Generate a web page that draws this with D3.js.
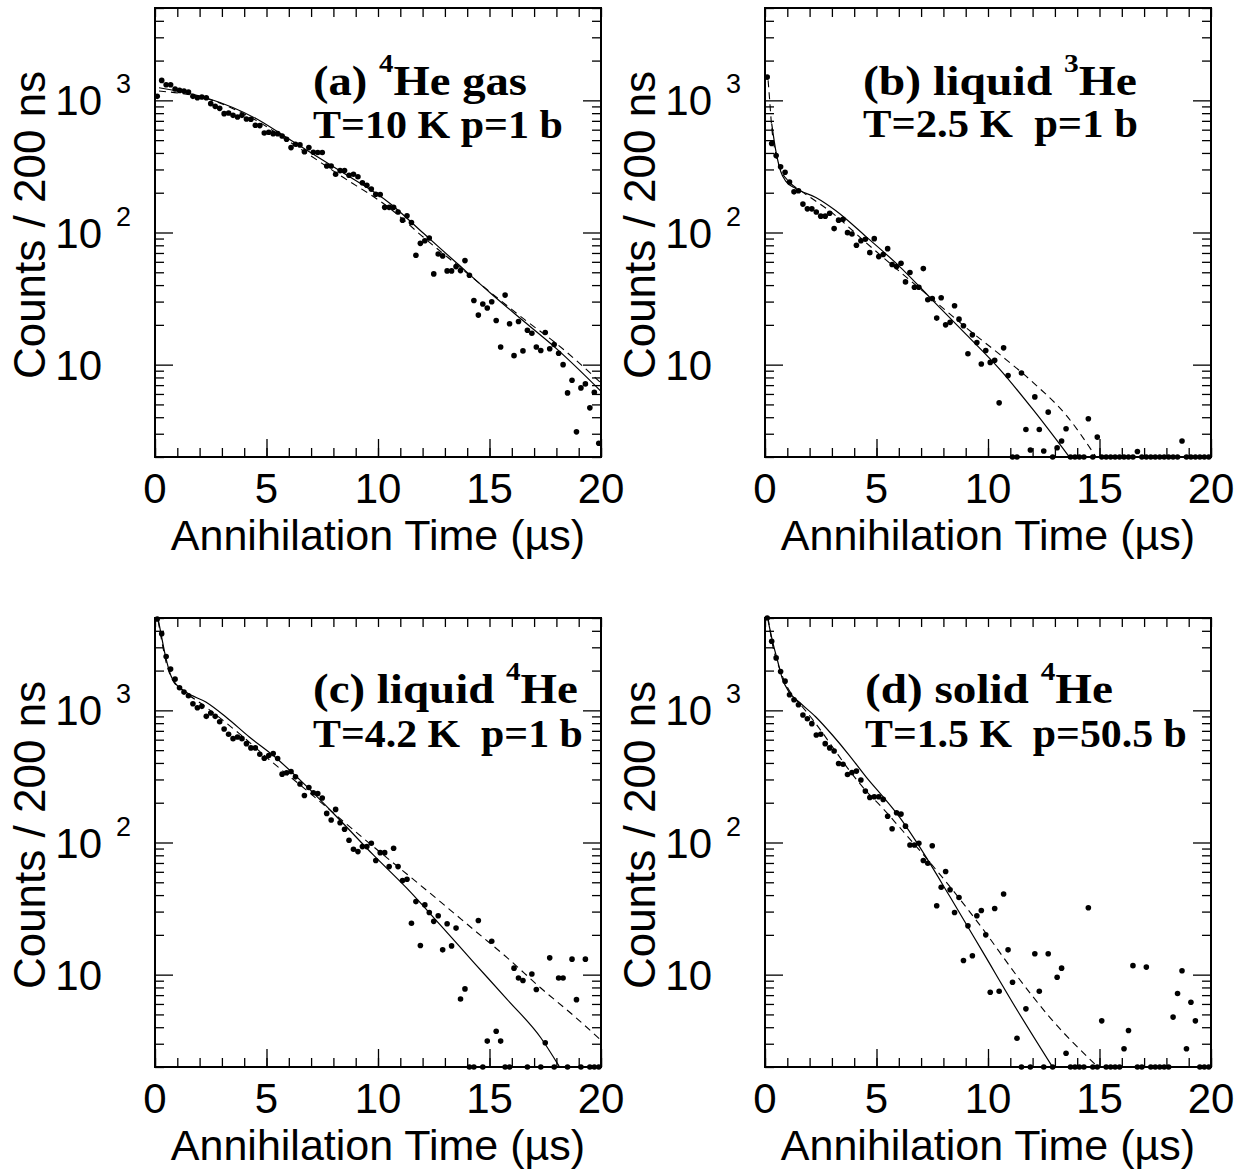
<!DOCTYPE html>
<html>
<head>
<meta charset="utf-8">
<script src="https://cdn.jsdelivr.net/npm/d3@7"></script>
<style>
  body { margin: 0; background: #fff; }
  svg { display: block; }
</style>
</head>
<body>
<svg id="chart" width="1251" height="1170"></svg>
<script>
// histogram bins are 200 ns wide, 100 bins from 0 to 20 us
const binWidth = 0.2;

// counts per bin, 0 = empty bin (drawn on the bottom edge)
const countsA = [1072,1416,1313,1313,1218,1190,1176,1155,1072,1047,
  1060,1047,944,901,870,793,802,770,749,770,
  723,719,648,644,566,573,560,560,538,508,
  439,466,460,408,439,405,403,403,319,319,
  276,294,294,271,276,264,238,228,213,195,
  194,155,155,155,143,124,134,119,67.3,82.8,
  86.7,90.8,48.6,68.8,66.5,51.2,51.2,55.2,51.5,61.3,
  47.5,30.6,23.7,28.8,26.8,29.9,21.6,13.6,33.6,20.4,
  11.7,21.2,12.7,18.2,17.3,13.6,12.8,17.5,13.2,14.2,
  12.2,10.0,6.11,7.62,3.10,6.67,7.15,4.71,6.18,2.54];

const countsB = [1500,471,382,314,286,241,203,207,164,151,
  151,143,133,133,140,107,124,126,99.7,97.4,
  80.0,86.7,88.8,70.4,89.8,65.7,68.1,75.5,57.2,55.2,
  58.5,42.3,49.8,38.5,38.5,53.3,31.0,31.7,22.5,32.1,
  20.0,20.9,27.9,22.1,19.7,12.1,16.8,14.7,10.1,12.8,
  10.4,10.8,5.14,13.4,8.26,0,0,8.65,3.23,2.26,
  5.70,3.23,2.22,4.37,0,2.35,2.64,3.27,0,0,
  0,0,3.89,0,2.83,0,0,0,0,0,
  0,0,0,2.20,0,0,0,0,0,0,
  0,0,0,2.64,0,0,0,0,0,0];

const countsC = [4920,3796,2558,2052,1722,1483,1375,1291,1122,1047,
  1072,901,955,901,821,723,659,611,629,611,
  560,520,520,466,434,455,471,432,329,337,
  345,314,277,227,261,238,235,217,166,148,
  178,141,126,104,88.8,85.3,93.1,93.1,98.6,73.0,
  83.8,83.8,65.7,90.4,65.7,51.5,52.7,24.5,35.7,16.6,
  33.7,29.5,25.3,27.9,15.4,24.3,16.5,22.5,6.54,7.80,
  0,0,25.7,0,3.14,17.9,3.73,3.14,0,0,
  11.2,9.44,9.02,0,10.1,7.71,0,3.05,13.4,0,
  9.44,9.44,0,13.1,6.47,0,13.1,0,0,0];

const countsD = [5000,3336,2495,1968,1663,1313,1203,1104,922,865,
  793,651,659,560,520,493,396,391,327,339,
  347,297,245,219,222,222,212,158,127,168,
  164,133,95.7,95.7,98.6,73.0,69.7,94.6,33.2,45.9,
  60.3,43.9,29.5,38.4,12.8,23.4,13.9,27.9,30.6,20.0,
  7.36,31.7,7.48,40.8,15.4,8.75,3.30,0,5.51,0,
  14.4,7.48,0,14.4,0,9.55,11.2,2.54,0,0,
  0,0,32.1,0,0,4.47,0,0,0,0,
  2.75,3.78,11.7,0,0,11.4,0,0,0,0,
  0,4.77,7.19,10.7,2.75,6.18,4.47,0,0,0];

// fit curves, [time (us), counts]
const fitSolidA = [[0.18,1246],[2.28,1047],[4.53,728],[6.04,505],[8.29,293],[10.54,166],
  [12.04,98.6],[13.54,58.5],[15.05,34.7],[16.55,21.2],[18.05,13.0],[20.0,6.29]];
const fitDashedA = [[0.18,1176],[2.28,1035],[4.53,706],[6.04,485],[8.29,271],[10.54,152],
  [12.04,92],[13.54,56.9],[15.05,35.2],[16.55,22.1],[18.05,14.2],[20.0,7.28]];

const fitSolidB = [[0.30,667],[0.48,420],[0.71,288],[0.93,245],[1.38,215],[2.28,184],[3.18,146],
  [4.53,93.1],[6.04,55.2],[7.54,30.4],[9.04,16.8],[10.54,9.17],[12.04,4.52],[13.62,2.03]];
const fitDashedB = [[0.14,1416],[0.21,1000],[0.30,629],[0.48,396],[0.71,297],[1.08,242],[1.68,203],
  [3.03,140],[4.53,83.8],[6.04,50.6],[7.54,31.0],[9.04,18.9],[10.54,11.9],[12.04,7.28],[13.54,4.08],[14.82,2.03]];

const fitSolidC = [[0.14,4920],[0.30,3573],[0.48,2530],[0.71,1838],[0.93,1589],[1.38,1375],[2.28,1156],
  [3.18,891],[4.23,629],[5.29,457],[6.79,267],[8.29,148],[9.79,80.5],[11.29,45.1],[12.79,23.8],
  [14.29,12.4],[15.80,6.47],[17.30,3.33],[18.12,2.03]];
const fitDashedC = [[0.14,4775],[0.30,3373],[0.48,2384],[0.78,1702],[1.23,1432],[2.28,1060],[3.78,667],
  [5.29,401],[6.79,249],[8.29,152],[9.79,93.1],[11.29,57.8],[12.79,35.7],[14.29,21.9],[15.80,13.4],
  [17.30,7.92],[18.80,4.85],[20.0,3.19]];

const fitSolidD = [[0.14,4775],[0.33,3373],[0.56,2384],[0.78,1734],[1.08,1375],[1.53,1156],[2.28,891],
  [3.03,648],[3.78,457],[4.53,314],[5.29,222],[6.04,155],[6.79,101],[8.29,39.0],[9.79,14.6],
  [11.29,5.45],[12.87,2.03]];
const fitDashedD = [[0.14,5000],[0.33,3186],[0.63,2125],[0.93,1589],[1.23,1298],[1.68,1060],[2.28,793],
  [3.03,528],[3.78,352],[4.53,246],[5.29,181],[6.04,130],[6.79,93.1],[8.29,46.4],[9.79,21.9],
  [11.29,9.82],[12.79,4.71],[14.89,2.03]];

const xMajorTicks = [0, 5, 10, 15, 20];
const yDecades = [10, 100, 1000];
const yDecadeSup = ["", "2", "3"];
const xTitle = "Annihilation Time (\u00b5s)";
const yTitle = "Counts / 200 ns";

const panels = [
  { counts: countsA, solid: fitSolidA, dashed: fitDashedA,
    line1: ["(a) ", "4", "He gas"], line2: "T=10 K p=1 b",
    left: 155, top: 8, tx: 313, b1: 95, w1: 214, b2: 138, w2: 250 },
  { counts: countsB, solid: fitSolidB, dashed: fitDashedB,
    line1: ["(b) liquid ", "3", "He"], line2: "T=2.5 K  p=1 b",
    left: 765, top: 8, tx: 863, b1: 95, w1: 274, b2: 137, w2: 275 },
  { counts: countsC, solid: fitSolidC, dashed: fitDashedC,
    line1: ["(c) liquid ", "4", "He"], line2: "T=4.2 K  p=1 b",
    left: 155, top: 618, tx: 313, b1: 703, w1: 265, b2: 747, w2: 270 },
  { counts: countsD, solid: fitSolidD, dashed: fitDashedD,
    line1: ["(d) solid ", "4", "He"], line2: "T=1.5 K  p=50.5 b",
    left: 765, top: 618, tx: 865, b1: 703, w1: 248, b2: 747, w2: 322 }
];

const plotW = 446, plotH = 449;
const sans = "'Liberation Sans', Arial, Helvetica, sans-serif";
const serif = "'Liberation Serif', 'Times New Roman', serif";

const svg = d3.select("#chart");

panels.forEach((p, i) => drawPanel(p, i));

function drawPanel(p, idx) {
  const bottom = p.top + plotH;
  const right = p.left + plotW;

  const x = d3.scaleLinear().domain([0, 20]).range([p.left, right]);
  const y = d3.scaleLog().domain([2, 5000]).range([bottom, p.top]);
  const yMin = y.domain()[0];

  const g = svg.append("g");

  const clipId = "clip" + idx;
  svg.append("clipPath").attr("id", clipId)
    .append("rect")
    .attr("x", p.left).attr("y", p.top - 1)
    .attr("width", plotW).attr("height", plotH + 2);

  // ticks, all pointing inward
  const minorX = d3.range(0, 21);
  const minorY = [];
  yDecades.concat([1]).forEach(dec => {
    d3.range(2, 10).forEach(k => {
      const v = k * dec;
      if (v >= 2 && v <= 5000) minorY.push(v);
    });
  });

  const axisStyle = sel => {
    sel.select(".domain").remove();
    sel.selectAll("line").attr("stroke", "#000").attr("stroke-width", 1.3);
  };

  g.append("g").attr("transform", `translate(0,${bottom})`)
    .call(d3.axisBottom(x).tickValues(minorX).tickSize(-9).tickFormat(""))
    .call(axisStyle);
  g.append("g").attr("transform", `translate(0,${bottom})`)
    .call(d3.axisBottom(x).tickValues(xMajorTicks).tickSize(-18).tickFormat(""))
    .call(axisStyle);
  g.append("g").attr("transform", `translate(0,${p.top})`)
    .call(d3.axisTop(x).tickValues(minorX).tickSize(-9).tickFormat(""))
    .call(axisStyle);

  [[p.left, d3.axisLeft], [right, d3.axisRight]].forEach(([pos, ax]) => {
    g.append("g").attr("transform", `translate(${pos},0)`)
      .call(ax(y).tickValues(minorY).tickSize(-9).tickFormat(""))
      .call(axisStyle);
    g.append("g").attr("transform", `translate(${pos},0)`)
      .call(ax(y).tickValues(yDecades).tickSize(-18).tickFormat(""))
      .call(axisStyle);
  });

  // frame
  g.append("rect")
    .attr("x", p.left).attr("y", p.top)
    .attr("width", plotW).attr("height", plotH)
    .attr("fill", "none").attr("stroke", "#000").attr("stroke-width", 2);

  // x tick labels
  g.selectAll(".xl").data(xMajorTicks).join("text")
    .attr("x", d => x(d))
    .attr("y", bottom + 46)
    .attr("text-anchor", "middle")
    .attr("font-family", sans).attr("font-size", 42)
    .text(d => d);

  // y tick labels: 10, 10^2, 10^3
  yDecades.forEach((d, k) => {
    g.append("text")
      .attr("x", p.left - 53).attr("y", y(d) + 15)
      .attr("text-anchor", "end")
      .attr("font-family", sans).attr("font-size", 42)
      .text("10");
    if (yDecadeSup[k]) {
      g.append("text")
        .attr("x", p.left - 39).attr("y", y(d) - 7)
        .attr("font-family", sans).attr("font-size", 27)
        .text(yDecadeSup[k]);
    }
  });

  // axis titles
  g.append("text")
    .attr("x", p.left + plotW / 2).attr("y", bottom + 93)
    .attr("text-anchor", "middle")
    .attr("font-family", sans).attr("font-size", 43)
    .text(xTitle);
  g.append("text")
    .attr("transform", `translate(${p.left - 110},${p.top + 217}) rotate(-90)`)
    .attr("text-anchor", "middle")
    .attr("font-family", sans).attr("font-size", 44)
    .text(yTitle);

  // fit curves
  const line = d3.line()
    .x(d => x(d[0]))
    .y(d => y(d[1]))
    .curve(d3.curveMonotoneX);
  const curves = g.append("g").attr("clip-path", `url(#${clipId})`);
  curves.append("path").datum(p.dashed)
    .attr("d", line).attr("fill", "none")
    .attr("stroke", "#000").attr("stroke-width", 1.1)
    .attr("stroke-dasharray", "7,5");
  curves.append("path").datum(p.solid)
    .attr("d", line).attr("fill", "none")
    .attr("stroke", "#000").attr("stroke-width", 1.2);

  // data points
  g.selectAll(".pt").data(p.counts).join("circle")
    .attr("cx", (d, i) => x((i + 0.5) * binWidth))
    .attr("cy", d => y(Math.max(d, yMin)))
    .attr("r", 2.8)
    .attr("fill", "#000");

  // panel annotation (bold serif, slightly stretched like the original)
  const a1 = svg.append("g");
  const t1 = a1.append("text")
    .attr("font-family", serif).attr("font-weight", "bold").attr("font-size", 42)
    .style("white-space", "pre");
  t1.append("tspan").text(p.line1[0]);
  t1.append("tspan").attr("font-size", 26).attr("dy", -23).text(p.line1[1]);
  t1.append("tspan").attr("dy", 23).text(p.line1[2]);
  const s1 = p.w1 / t1.node().getComputedTextLength();
  a1.attr("transform", `translate(${p.tx},${p.b1}) scale(${s1},1)`);

  const a2 = svg.append("g");
  const t2 = a2.append("text")
    .attr("font-family", serif).attr("font-weight", "bold").attr("font-size", 40)
    .style("white-space", "pre")
    .text(p.line2);
  const s2 = p.w2 / t2.node().getComputedTextLength();
  a2.attr("transform", `translate(${p.tx},${p.b2}) scale(${s2},1)`);
}
</script>
</body>
</html>
